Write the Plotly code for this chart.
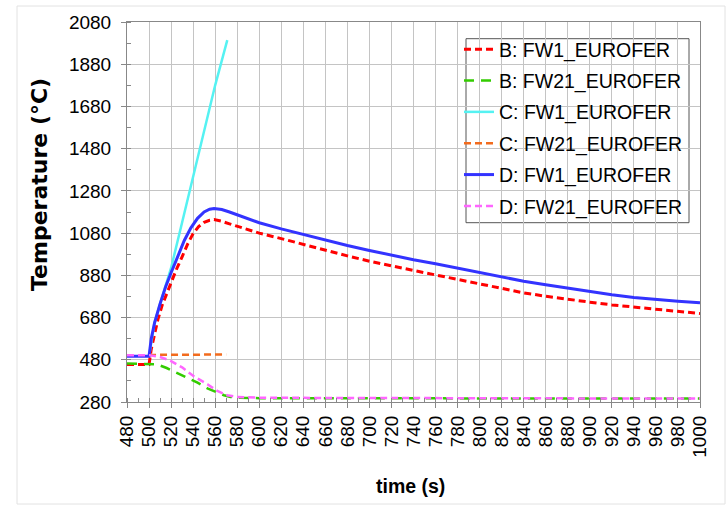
import plotly.graph_objects as go

# ---- data ----
t_B_FW1 = [480, 500, 502, 505, 508, 512, 516, 520, 525, 530, 535, 540, 545, 550, 555, 559, 566, 573, 582,
           600, 620, 640, 660, 680, 700, 720, 740, 760, 780, 800, 820, 840, 860, 880, 900,
           920, 940, 960, 980, 1000]
v_B_FW1 = [458, 458, 530, 605, 670, 740, 795, 845, 910, 968, 1028, 1078, 1111, 1131, 1141, 1144, 1136, 1124, 1110,
           1080, 1054, 1026, 998, 972, 947, 924, 903, 882, 860, 838, 816, 797, 781, 766, 753,
           740, 729, 718, 708, 699]

t_B_FW21 = [480, 500, 507, 516, 525, 535, 544, 553, 562, 568, 574, 583, 600, 650, 700, 800, 900, 1000]
v_B_FW21 = [462, 462, 459, 441, 420, 396, 372, 345, 325, 312, 304, 300, 298, 297, 297, 297, 297, 297]

t_C_FW1 = [500, 505, 510, 515, 520, 530, 540, 550, 560, 571]
v_C_FW1 = [497, 655, 745, 830, 915, 1130, 1350, 1565, 1780, 1994]

t_C_FW21 = [500, 520, 540, 560, 570]
v_C_FW21 = [503, 504, 504, 505, 505]

t_D_FW1 = [480, 500, 502, 505, 510, 515, 520, 526, 532, 538, 544, 550, 555, 559, 566, 573, 582,
           600, 620, 640, 660, 680, 700, 720, 740, 760, 780, 800, 820, 840, 860, 880, 900,
           920, 940, 960, 980, 1000]
v_D_FW1 = [497, 497, 580, 655, 745, 825, 892, 971, 1045, 1105, 1150, 1180, 1193, 1197, 1192, 1180, 1163,
           1129, 1100, 1073, 1045, 1021, 998, 975, 954, 935, 914, 891, 871, 852, 835, 819, 802,
           788, 775, 765, 757, 750]

t_D_FW21 = [480, 500, 510, 519, 530, 540, 553, 562, 571, 580, 600, 700, 800, 900, 1000]
v_D_FW21 = [502, 502, 493, 477, 444, 404, 364, 332, 312, 304, 300, 298, 297, 297, 297]

series_names = ["B: FW1_EUROFER", "B: FW21_EUROFER", "C: FW1_EUROFER",
                "C: FW21_EUROFER", "D: FW1_EUROFER", "D: FW21_EUROFER"]

x_ticks = list(range(480, 1001, 20))
y_ticks = list(range(280, 2081, 200))

# ---- figure ----
FONT = "Liberation Sans, Arial, sans-serif"
L, T, PW, PH = 127, 22, 573, 380


def px(x):
    return (x - L) / PW


def py(y):
    return (T + PH - y) / PH


series = [
    (t_B_FW1, v_B_FW1, "#FF0000", 3, "7px,4px"),
    (t_B_FW21, v_B_FW21, "#33CC00", 2.5, "10px,7px"),
    (t_C_FW1, v_C_FW1, "#55F2F2", 2.5, "solid"),
    (t_C_FW21, v_C_FW21, "#F26B1D", 2.5, "7px,4px"),
    (t_D_FW1, v_D_FW1, "#3333FF", 3, "solid"),
    (t_D_FW21, v_D_FW21, "#FF66FF", 2.5, "7px,4px"),
]

fig = go.Figure()
for i, (tx, vy, col, w, dash) in enumerate(series):
    fig.add_trace(go.Scatter(
        x=tx, y=vy, mode="lines", name=series_names[i], legendgroup=f"g{i}",
        line=dict(color=col, width=w, dash=dash),
    ))

fig.update_layout(
    width=726, height=505,
    margin=dict(l=L, r=726 - L - PW, t=T, b=505 - T - PH, autoexpand=False),
    paper_bgcolor="white", plot_bgcolor="white",
    font=dict(family=FONT, size=19, color="#000000"),
    showlegend=True,
    legend=dict(
        x=px(459), y=py(30), xanchor="left", yanchor="top",
        borderwidth=0, bgcolor="rgba(0,0,0,0)",
        font=dict(family=FONT, size=19.5, color="#000000"),
        tracegroupgap=3, traceorder="grouped",
    ),
    xaxis=dict(
        range=[480, 1000], tickmode="array", tickvals=x_ticks,
        ticktext=[str(v) for v in x_ticks], tickangle=-90,
        showgrid=True, gridcolor="#C4C4C4", gridwidth=1,
        showline=True, linecolor="#888888", linewidth=1, mirror=True,
        ticks="outside", ticklen=5, tickcolor="#888888",
        minor=dict(dtick=10, tick0=480, ticks="inside", ticklen=4, tickcolor="#888888", showgrid=False),
        tickfont=dict(family=FONT, size=19), zeroline=False, automargin=False,
    ),
    yaxis=dict(
        range=[280, 2080], tickmode="array", tickvals=y_ticks,
        ticktext=[str(v) for v in y_ticks],
        showgrid=True, gridcolor="#C4C4C4", gridwidth=1,
        showline=True, linecolor="#888888", linewidth=1, mirror=True,
        ticks="outside", ticklen=5, tickcolor="#888888",
        minor=dict(dtick=100, tick0=280, ticks="inside", ticklen=4, tickcolor="#888888", showgrid=False),
        tickfont=dict(family=FONT, size=19), zeroline=False, automargin=False,
        ticklabelstandoff=6,
    ),
    annotations=[
        dict(text="<b>time (s)</b>", xref="paper", yref="paper",
             x=px(410), y=py(486), xanchor="center", yanchor="middle",
             showarrow=False, font=dict(family=FONT, size=19.5, color="#000000")),
        dict(text="<b>Temperature (°C)</b>", xref="paper", yref="paper",
             x=px(39), y=py(185), xanchor="center", yanchor="middle",
             textangle=-90, showarrow=False,
             font=dict(family="DejaVu Sans, sans-serif", size=22, color="#000000")),
    ],
    shapes=[
        dict(type="rect", xref="paper", yref="paper",
             x0=px(17), x1=px(725), y0=py(504), y1=py(6),
             line=dict(color="#E2E2E2", width=1), layer="below"),
        dict(type="rect", xref="paper", yref="paper",
             x0=px(466), x1=px(689), y0=py(222.7), y1=py(38.7),
             line=dict(color="#555555", width=1), fillcolor="white", layer="between"),
    ],
)

fig.write_html("out.html", config={"displayModeBar": False},
               post_script="document.body.style.margin='0px';")
